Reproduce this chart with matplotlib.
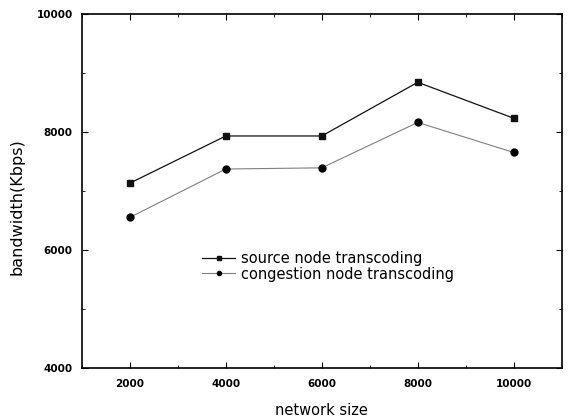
import matplotlib
matplotlib.use("Agg")
import matplotlib.pyplot as plt
from matplotlib.ticker import MultipleLocator

plt.rcParams['font.family'] = ['DejaVu Sans']

network_size = [2000, 4000, 6000, 8000, 10000]
source_bw = [7130, 7930, 7930, 8840, 8230]
congestion_bw = [6550, 7370, 7390, 8160, 7650]

fig = plt.figure(figsize=(5.68, 4.19), dpi=100)
ax = fig.add_axes([0.144, 0.122, 0.845, 0.845])

ax.plot(network_size, source_bw, color='#111111', lw=0.9, marker='s', ms=5,
        label='source node transcoding')
ax.plot(network_size, congestion_bw, color='#808080', lw=0.8, marker='o', ms=5,
        mfc='black', mec='black', label='congestion node transcoding')

ax.set_xlim(1000, 11000)
ax.set_ylim(4000, 10000)
ax.xaxis.set_major_locator(MultipleLocator(2000))
ax.xaxis.set_minor_locator(MultipleLocator(1000))
ax.yaxis.set_major_locator(MultipleLocator(2000))
ax.yaxis.set_minor_locator(MultipleLocator(1000))
ax.tick_params(which='both', direction='in', top=True, right=True)
ax.tick_params(which='major', length=4, labelsize=7.5)
ax.tick_params(axis='y', pad=6.5)
ax.tick_params(axis='x', pad=8)
ax.tick_params(which='minor', length=2)
for lab in ax.get_xticklabels() + ax.get_yticklabels():
    lab.set_fontweight('bold')
for s in ax.spines.values():
    s.set_linewidth(1.2)

ax.set_xlabel('network size', fontsize=10.5)
ax.set_ylabel('bandwidth(Kbps)', fontsize=11.5)
ax.xaxis.set_label_coords(0.5, -0.098)
ax.yaxis.set_label_coords(-0.12, 0.455)

ax.legend(loc='upper left', bbox_to_anchor=(0.235, 0.35), frameon=False,
          fontsize=10.5, handlelength=2.3, handletextpad=0.4, labelspacing=0.02,
          borderpad=0.0, markerscale=0.6)

fig.savefig('out.png', dpi=100)
